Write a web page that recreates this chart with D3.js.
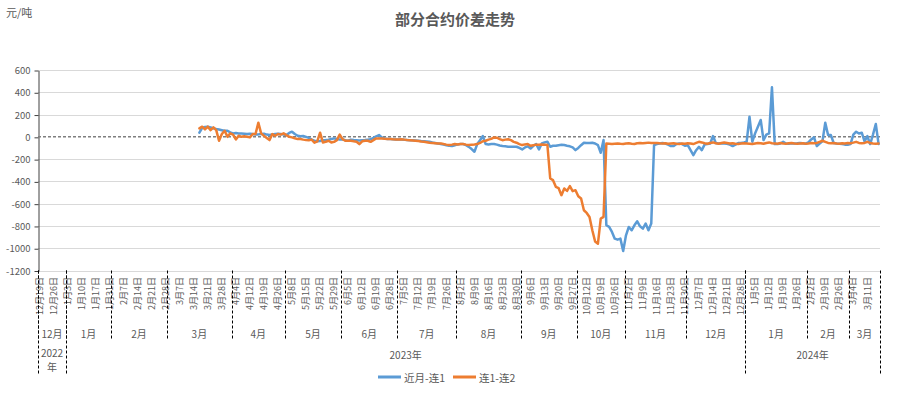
<!DOCTYPE html>
<html>
<head>
<meta charset="utf-8">
<script src="https://cdn.jsdelivr.net/npm/d3@7"></script>
<style>
body{margin:0;background:#fff;}
</style>
</head>
<body>
<div id="chart"></div>
<script>
// one category = one trading day, 2022-12-19 .. 2024-03-15
var categoryCount = 300;
var tickStep = 5;
var tickLabels = [
    '12月19日','12月26日',
    '1月3日','1月10日','1月17日','1月31日','2月7日','2月14日','2月21日','2月28日',
    '3月7日','3月14日','3月21日','3月28日','4月4日','4月12日','4月19日','4月26日',
    '5月8日','5月15日','5月22日','5月29日','6月5日','6月12日','6月19日','6月28日',
    '7月5日','7月12日','7月19日','7月26日','8月2日','8月9日','8月16日','8月23日','8月30日',
    '9月6日','9月13日','9月20日','9月27日','10月12日','10月19日','10月26日',
    '11月2日','11月9日','11月16日','11月23日','11月30日','12月7日','12月14日','12月21日','12月28日',
    '1月5日','1月12日','1月19日','1月26日','2月2日','2月19日','2月26日','3月4日','3月11日'
];
var monthNames = ['12月','1月','2月','3月','4月','5月','6月','7月','8月','9月','10月','11月','12月','1月','2月','3月'];
var monthStart = [0,10,26,46,69,88,108,128,149,172,192,209,231,252,274,289];
var yearNames = ['2022年','2023年','2024年'];
var yearStart = [0,10,252];

var yTicks = [600,400,200,0,-200,-400,-600,-800,-1000,-1200];

// both series begin at category 57
var seriesStart = 57;
var nearMonth = [
    37,80,88,91,85,76,70,65,60,55,
    55,40,31,35,30,30,28,25,28,25,
    20,22,25,28,20,16,22,25,28,25,
    20,16,35,46,25,10,5,7,0,-10,
    -25,-35,-40,-38,-30,-28,-25,-20,-14,-20,
    -25,-23,-30,-35,-25,-28,-30,-32,-30,-28,
    -25,-22,-10,5,16,-5,-15,-20,-20,-22,
    -23,-25,-25,-27,-28,-30,-30,-32,-35,-38,
    -40,-42,-44,-50,-55,-60,-65,-70,-75,-80,
    -83,-75,-68,-65,-65,-75,-90,-110,-134,-65,
    -30,7,-65,-68,-65,-65,-70,-78,-83,-85,
    -88,-88,-89,-89,-100,-113,-95,-85,-105,-80,
    -65,-113,-60,-50,-44,-89,-80,-80,-75,-72,
    -74,-80,-85,-95,-119,-100,-75,-53,-55,-55,
    -53,-60,-74,-143,-29,-794,-809,-854,-914,-923,
    -914,-1025,-884,-809,-839,-794,-758,-803,-824,-779,
    -839,-779,-74,-65,-60,-55,-60,-70,-83,-83,
    -65,-60,-65,-80,-75,-120,-164,-120,-90,-119,
    -70,-65,-60,7,-55,-60,-58,-60,-62,-70,
    -83,-70,-55,-55,-50,-44,181,-44,31,91,
    151,-29,20,31,445,-65,-65,-60,-45,-60,
    -62,-58,-60,-58,-55,-58,-62,-50,-23,-5,
    -83,-60,-40,127,16,16,-55,-60,-62,-65,
    -70,-72,-65,20,46,30,37,-40,7,-65,
    20,115,-65
];
var firstSecond = [
    76,91,67,91,60,85,60,-35,25,55,
    0,31,20,-23,10,0,5,0,-5,25,
    25,127,31,10,-10,-29,25,10,25,20,
    31,15,0,-5,-14,-20,-20,-25,-29,-30,
    -25,-53,-40,37,-50,-45,-35,-50,-45,-30,
    20,-20,-35,-35,-35,-40,-44,-65,-40,-35,
    -35,-45,-30,-14,-15,-14,-18,-20,-20,-22,
    -23,-23,-22,-25,-28,-30,-32,-35,-38,-42,
    -45,-48,-53,-55,-57,-59,-59,-65,-70,-74,
    -70,-65,-68,-65,-65,-70,-74,-70,-68,-65,
    -55,-40,-35,-25,-18,-5,-8,-20,-30,-25,
    -22,-30,-45,-53,-65,-74,-68,-65,-80,-75,
    -70,-72,-68,-70,-74,-374,-389,-449,-461,-524,
    -464,-485,-443,-488,-479,-533,-554,-659,-683,-719,
    -839,-940,-959,-734,-719,-60,-62,-65,-62,-60,
    -63,-65,-60,-58,-62,-65,-58,-55,-58,-55,
    -52,-55,-55,-55,-58,-60,-58,-62,-60,-58,
    -62,-65,-60,-62,-58,-60,-65,-55,-45,-50,
    -58,-62,-55,-50,-58,-62,-55,-50,-55,-60,
    -58,-62,-65,-60,-58,-60,-62,-65,-60,-55,
    -58,-62,-55,-50,-58,-60,-62,-55,-60,-62,
    -58,-55,-60,-62,-60,-58,-62,-60,-55,-58,
    -55,-45,-35,-45,-55,-58,-55,-60,-62,-58,
    -60,-55,-58,-52,-45,-55,-58,-55,-45,-55,
    -60,-62,-60
];
var seriesNames = ['近月-连1','连1-连2'];
var seriesColors = ['#5b9bd5','#ed7d31'];

var width = 911, height = 396;
var plot = {left:38, right:880, top:70, bottom:270.5};
var textColor = '#595959';
var font = '"Noto Sans CJK SC","Noto Sans",sans-serif';

var svg = d3.select('#chart').append('svg')
    .attr('width',width)
    .attr('height',height)
    .style('font-family',font);

var x = d3.scaleBand()
    .domain(d3.range(categoryCount))
    .range([plot.left,plot.right]);
var y = d3.scaleLinear()
    .domain([-1200,600])
    .range([plot.bottom,plot.top]);
function cx(i){return x(i)+x.bandwidth()/2;}

// title and unit
svg.append('text')
    .text('部分合约价差走势')
    .attr('x',455)
    .attr('y',18)
    .attr('text-anchor','middle')
    .attr('dominant-baseline','central')
    .attr('font-size','15px')
    .attr('font-weight','bold')
    .attr('fill',textColor);
svg.append('text')
    .text('元/吨')
    .attr('x',6)
    .attr('y',12)
    .attr('dominant-baseline','central')
    .attr('font-size','11px')
    .attr('fill',textColor);

// grid
svg.append('g').attr('class','grid').selectAll('line')
    .data(yTicks)
    .enter().append('line')
    .attr('x1',plot.left).attr('x2',plot.right)
    .attr('y1',function(d){return Math.round(y(d))+0.5;})
    .attr('y2',function(d){return Math.round(y(d))+0.5;})
    .attr('stroke',function(d){return d==0?'none':'#d9d9d9';})
    .attr('stroke-width',1);

// y axis, plain hyphen minus and no thousands separator
var yAxis = svg.append('g')
    .attr('transform','translate('+(plot.left+0.5)+',0.5)')
    .call(d3.axisLeft(y).tickValues(yTicks).tickSize(4).tickPadding(4).tickSizeOuter(0)
        .tickFormat(function(d){return String(d);}));
yAxis.select('.domain').attr('stroke','#404040');
yAxis.selectAll('.tick line').attr('stroke','#404040');
yAxis.selectAll('.tick text')
    .attr('fill',textColor)
    .attr('font-size','9.5px')
    .attr('font-family',font);

// zero line
svg.append('line')
    .attr('x1',plot.left).attr('x2',plot.right)
    .attr('y1',y(0)).attr('y2',y(0))
    .attr('stroke','#7f7f7f')
    .attr('stroke-width',1.5)
    .attr('stroke-dasharray','3,2');

// category labels
svg.append('g').attr('class','cat-labels').selectAll('text')
    .data(tickLabels)
    .enter().append('text')
    .text(function(d){return d;})
    .attr('transform',function(d,i){return 'translate('+cx(i*tickStep)+',277) rotate(-90)';})
    .attr('dy','0.35em')
    .attr('text-anchor','end')
    .attr('font-size','9px')
    .attr('fill',textColor);

// month groups
var monthEnd = monthStart.slice(1).concat([categoryCount]);
svg.append('g').attr('class','month-div').selectAll('line')
    .data(monthStart)
    .enter().append('line')
    .attr('x1',function(d){return Math.round(x(d))+0.5;})
    .attr('x2',function(d){return Math.round(x(d))+0.5;})
    .attr('y1',plot.bottom).attr('y2',340)
    .attr('stroke','#000')
    .attr('stroke-dasharray','3,2');
svg.append('g').attr('class','month-labels').selectAll('text')
    .data(monthNames)
    .enter().append('text')
    .text(function(d){return d;})
    .attr('x',function(d,i){return (x(monthStart[i])+(monthEnd[i]<categoryCount?x(monthEnd[i]):plot.right))/2;})
    .attr('y',333)
    .attr('text-anchor','middle')
    .attr('dominant-baseline','central')
    .attr('font-size','10px')
    .attr('fill',textColor);

// year groups
var yearEdges = yearStart.map(function(d){return x(d);}).concat([plot.right]);
svg.append('g').attr('class','year-div').selectAll('line')
    .data(yearEdges)
    .enter().append('line')
    .attr('x1',function(d){return Math.round(d)+0.5;})
    .attr('x2',function(d){return Math.round(d)+0.5;})
    .attr('y1',plot.bottom).attr('y2',375)
    .attr('stroke','#000')
    .attr('stroke-dasharray','3,2');
var yearGroup = svg.append('g').attr('class','year-labels');
yearNames.forEach(function(d,i){
    var w = yearEdges[i+1]-yearEdges[i];
    var mid = (yearEdges[i]+yearEdges[i+1])/2;
    // narrow group: wrap 年 onto a second line
    var lines = w<40?[d.slice(0,-1),d.slice(-1)]:[d];
    lines.forEach(function(s,k){
        yearGroup.append('text')
            .text(s)
            .attr('x',mid)
            .attr('y',(lines.length>1?352:354)+k*14)
            .attr('text-anchor','middle')
            .attr('dominant-baseline','central')
            .attr('font-size','10px')
            .attr('fill',textColor);
    });
});

// series
var line = d3.line()
    .defined(function(d){return d!=null;})
    .x(function(d,i){return cx(seriesStart+i);})
    .y(function(d){return y(d);});
svg.append('g').attr('class','series').selectAll('path')
    .data([nearMonth,firstSecond])
    .enter().append('path')
    .attr('d',line)
    .attr('fill','none')
    .attr('stroke',function(d,i){return seriesColors[i];})
    .attr('stroke-width',2.5)
    .attr('stroke-linejoin','round')
    .attr('stroke-linecap','round');

// legend
var legendX = [378,453];
var legend = svg.append('g').attr('class','legend').selectAll('g')
    .data(seriesNames)
    .enter().append('g')
    .attr('transform',function(d,i){return 'translate('+legendX[i]+',377)';});
legend.append('line')
    .attr('x1',0).attr('x2',23)
    .attr('y1',0).attr('y2',0)
    .attr('stroke',function(d,i){return seriesColors[i];})
    .attr('stroke-width',3);
legend.append('text')
    .text(function(d){return d;})
    .attr('x',26)
    .attr('y',0)
    .attr('dominant-baseline','central')
    .attr('font-size','10.5px')
    .attr('fill',textColor);
</script>
</body>
</html>
